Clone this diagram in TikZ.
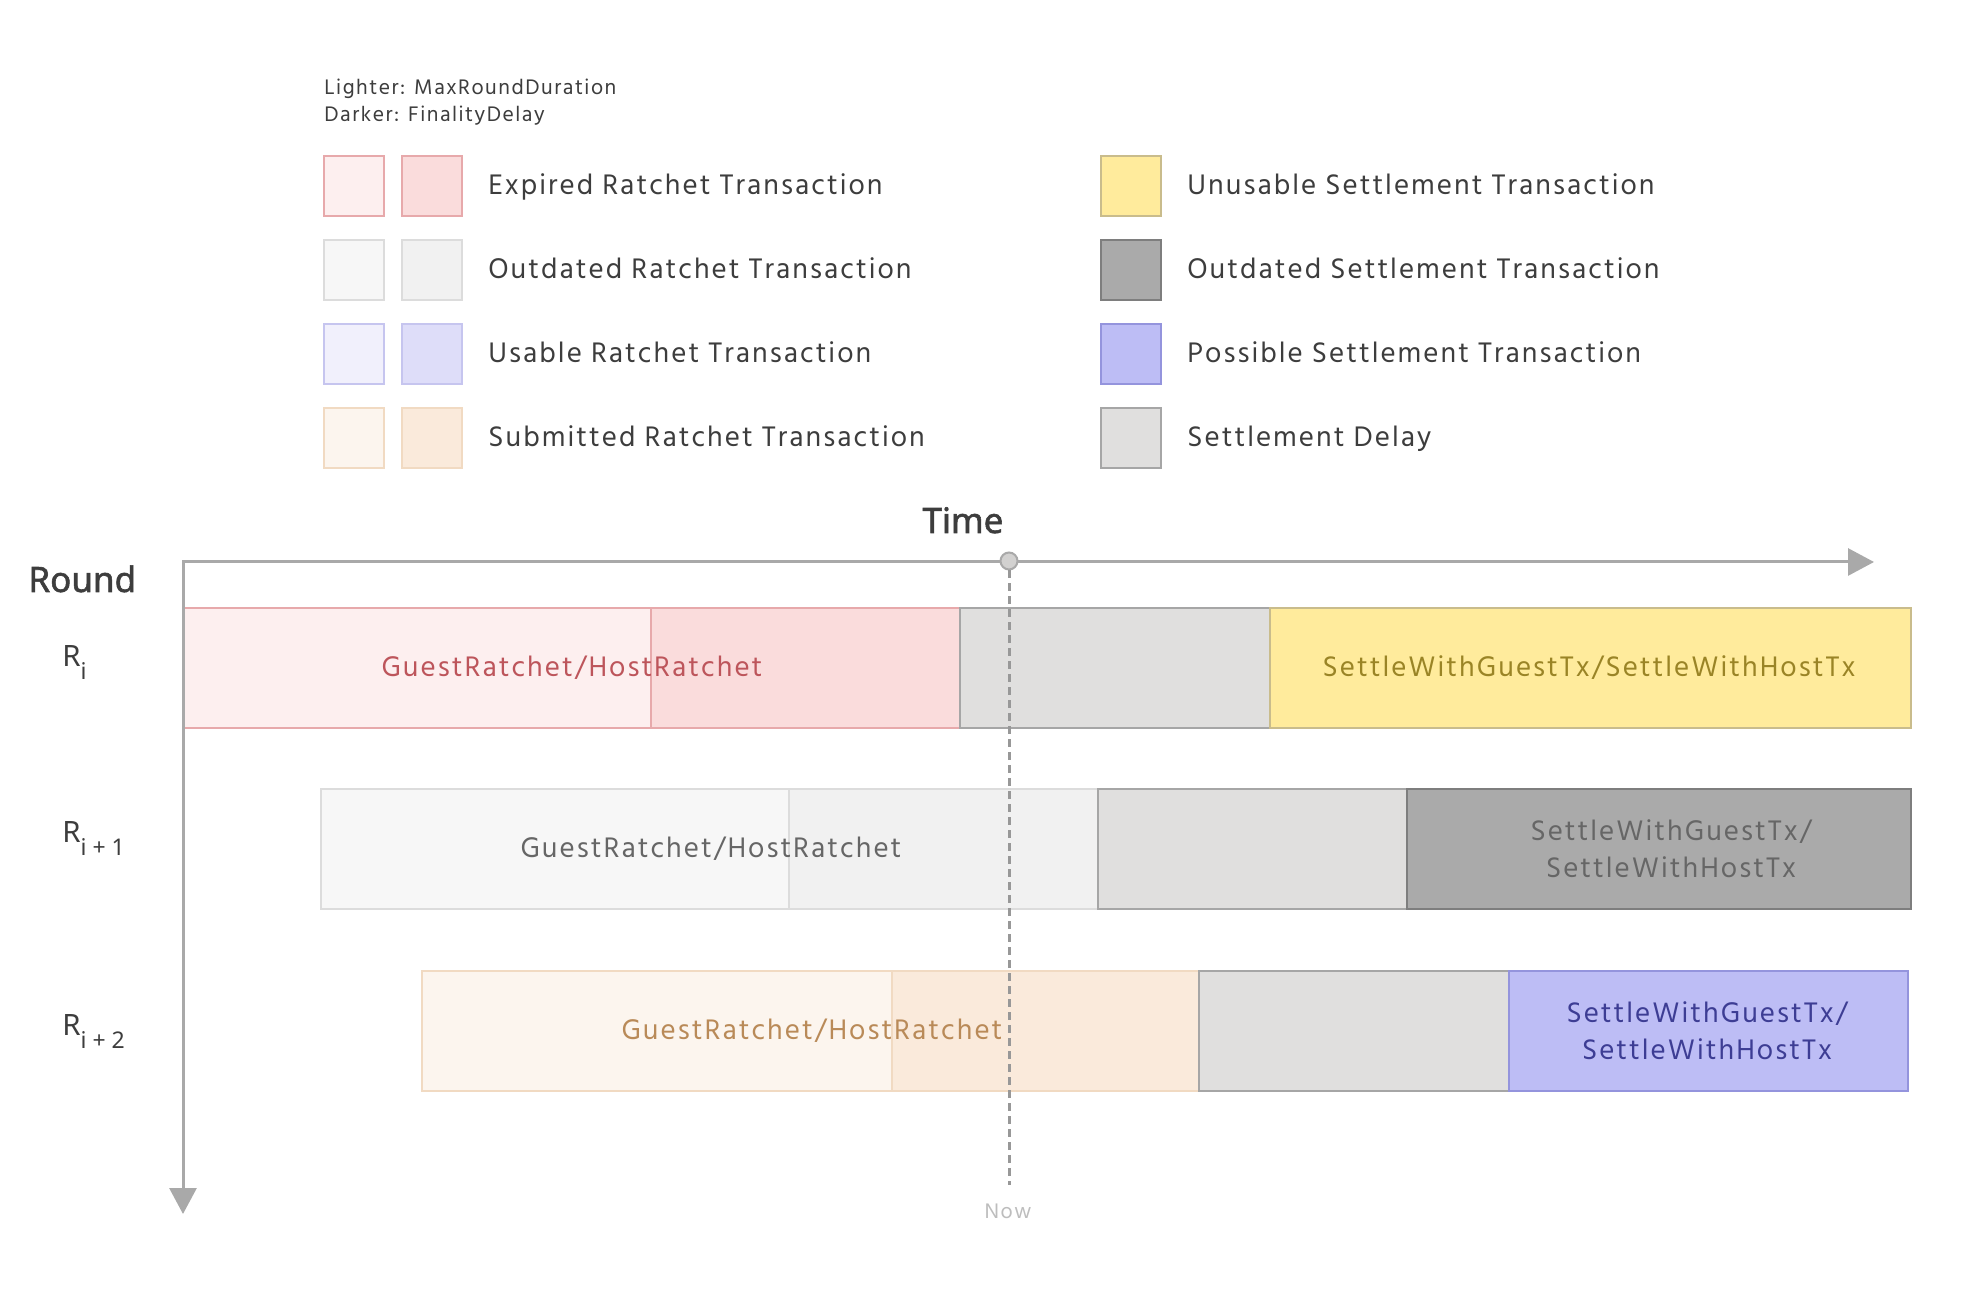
\documentclass[tikz,border=0pt]{standalone}
\usepackage{fontspec}
\setmainfont{Hind Madurai}[LetterSpace=7]
\newfontfamily\labfont{Noto Sans}
\newfontfamily\boldlab{Noto Sans}[FakeBold=1.6]
\usetikzlibrary{arrows.meta}
\definecolor{redL}{HTML}{FDEFEF}
\definecolor{redD}{HTML}{FADCDC}
\definecolor{redB}{HTML}{E7A9AB}
\definecolor{redT}{HTML}{BD555B}
\definecolor{grayL}{HTML}{F7F7F7}
\definecolor{grayD}{HTML}{F1F1F1}
\definecolor{grayB}{HTML}{DCDCDC}
\definecolor{grayT}{HTML}{666666}
\definecolor{purL}{HTML}{F1F0FC}
\definecolor{purD}{HTML}{DEDDF9}
\definecolor{purB}{HTML}{C6C5EF}
\definecolor{orL}{HTML}{FCF5EE}
\definecolor{orD}{HTML}{FAEADB}
\definecolor{orB}{HTML}{F1DAC2}
\definecolor{orT}{HTML}{B98A58}
\definecolor{delayF}{HTML}{E0DFDE}
\definecolor{delayB}{HTML}{A6A6A6}
\definecolor{yelF}{HTML}{FFEB9C}
\definecolor{yelB}{HTML}{C9BC8C}
\definecolor{yelT}{HTML}{9A8426}
\definecolor{dkF}{HTML}{AAAAAA}
\definecolor{dkB}{HTML}{7E7E7E}
\definecolor{dkT}{HTML}{666666}
\definecolor{purF}{HTML}{BDBDF5}
\definecolor{purBB}{HTML}{9494DD}
\definecolor{purT}{HTML}{3D3D94}
\definecolor{txtC}{HTML}{3D3D3D}
\definecolor{axisC}{HTML}{A9A9A9}
\definecolor{nowT}{HTML}{BDBDBD}
\tikzset{
  boxline/.style={line width=0.8pt},
  legtext/.style={anchor=base west, inner sep=0pt, text=txtC, font=\fontsize{14.5}{16}\selectfont},
  notetext/.style={anchor=base west, inner sep=0pt, text=txtC, font=\fontsize{10.8}{12}\selectfont},
  bartext/.style={inner sep=0pt, font=\fontsize{14.5}{18.3}\selectfont, align=center},
  roundlab/.style={anchor=base west, inner sep=0pt, text=txtC, font=\labfont\fontsize{14.7}{16}\selectfont},
  axisline/.style={draw=axisC, line width=1.5pt, line join=miter},
}
\newcommand{\sublab}[1]{\raisebox{-6.3pt}{\fontsize{11.5}{12}\selectfont #1}}
\begin{document}
\begin{tikzpicture}[x=0.5pt,y=-0.5pt]
\useasboundingbox[fill=white] (0,0) rectangle (1983,1293);
% ---- legend notes
\node[notetext] (note1) at (324,95) {Lighter: MaxRoundDuration};
\node[notetext] (note2) at (324,121.7) {Darker: FinalityDelay};
% ---- legend left column
\draw[boxline, fill=redL, draw=redB] (324,156) rectangle (384,216);
\draw[boxline, fill=redD, draw=redB] (402,156) rectangle (462,216);
\node[legtext] (l1) at (488,195) {Expired Ratchet Transaction};
\draw[boxline, fill=grayL, draw=grayB] (324,240) rectangle (384,300);
\draw[boxline, fill=grayD, draw=grayB] (402,240) rectangle (462,300);
\node[legtext] (l2) at (488,279) {Outdated Ratchet Transaction};
\draw[boxline, fill=purL, draw=purB] (324,324) rectangle (384,384);
\draw[boxline, fill=purD, draw=purB] (402,324) rectangle (462,384);
\node[legtext] (l3) at (488,363) {Usable Ratchet Transaction};
\draw[boxline, fill=orL, draw=orB] (324,408) rectangle (384,468);
\draw[boxline, fill=orD, draw=orB] (402,408) rectangle (462,468);
\node[legtext] (l4) at (488,447) {Submitted Ratchet Transaction};
% ---- legend right column
\draw[boxline, fill=yelF, draw=yelB] (1101,156) rectangle (1161,216);
\node[legtext] (r1) at (1187,195) {Unusable Settlement Transaction};
\draw[boxline, fill=dkF, draw=dkB] (1101,240) rectangle (1161,300);
\node[legtext] (r2) at (1187,279) {Outdated Settlement Transaction};
\draw[boxline, fill=purF, draw=purBB] (1101,324) rectangle (1161,384);
\node[legtext] (r3) at (1187,363) {Possible Settlement Transaction};
\draw[boxline, fill=delayF, draw=delayB] (1101,408) rectangle (1161,468);
\node[legtext] (r4) at (1187,447) {Settlement Delay};
% ---- axis titles
\node[anchor=base, inner sep=0pt, text=txtC, font=\boldlab\fontsize{17.5}{18}\selectfont] (time) at (963,533) {Time};
\node[anchor=base west, inner sep=0pt, text=txtC, font=\boldlab\fontsize{17.5}{18}\selectfont] (round) at (28,592) {Round};
% ---- round labels
\node[roundlab] (ri) at (62,666.5) {R\sublab{i}};
\node[roundlab] (ri1) at (62,842.5) {R\sublab{i + 1}};
\node[roundlab] (ri2) at (62,1036) {R\sublab{i + 2}};
% ---- row 1
\draw[boxline, fill=redL, draw=redB] (183,608) rectangle (651,728);
\draw[boxline, fill=redD, draw=redB] (651,608) rectangle (960,728);
\draw[boxline, fill=delayF, draw=delayB] (960,608) rectangle (1270,728);
\draw[boxline, fill=yelF, draw=yelB] (1270,608) rectangle (1911,728);
\node[bartext, text=redT] (t1) at (572,668) {GuestRatchet/HostRatchet};
\node[bartext, text=yelT] (s1) at (1589,668) {SettleWithGuestTx/SettleWithHostTx};
% ---- row 2
\draw[boxline, fill=grayL, draw=grayB] (321,789) rectangle (789,909);
\draw[boxline, fill=grayD, draw=grayB] (789,789) rectangle (1098,909);
\draw[boxline, fill=delayF, draw=delayB] (1098,789) rectangle (1407,909);
\draw[boxline, fill=dkF, draw=dkB] (1407,789) rectangle (1911,909);
\node[bartext, text=grayT] (t2) at (711,849) {GuestRatchet/HostRatchet};
\node[bartext, text=dkT] (s2) at (1671,849) {SettleWithGuestTx/\\SettleWithHostTx};
% ---- row 3
\draw[boxline, fill=orL, draw=orB] (422,971) rectangle (892,1091);
\draw[boxline, fill=orD, draw=orB] (892,971) rectangle (1199,1091);
\draw[boxline, fill=delayF, draw=delayB] (1199,971) rectangle (1509,1091);
\draw[boxline, fill=purF, draw=purBB] (1509,971) rectangle (1908,1091);
\node[bartext, text=orT] (t3) at (812,1031) {GuestRatchet/HostRatchet};
\node[bartext, text=purT] (s3) at (1707,1031) {SettleWithGuestTx/\\SettleWithHostTx};
% ---- axes
\coordinate (origin) at (183,562);
\coordinate (xend) at (1874,562);
\coordinate (yend) at (183,1214);
\draw[axisline, {Triangle[length=13pt,width=13.5pt]}-{Triangle[length=13pt,width=13.5pt]}] (yend) -- (origin) -- (xend);
% ---- now marker
\coordinate (nowend) at (1009,1185);
\node[circle, minimum size=8.5pt, inner sep=0pt, fill=delayF!85!gray, draw=axisC, line width=1pt] (nowdot) at (1009,561) {};
\draw[draw=axisC!90!black, line width=1.5pt, dash pattern=on 4pt off 2.5pt] (nowdot.south) -- (nowend);
\node[anchor=base, inner sep=0pt, text=nowT, font=\fontsize{10.8}{12}\selectfont] (now) at (1008,1218) {Now};
\end{tikzpicture}
\end{document}
